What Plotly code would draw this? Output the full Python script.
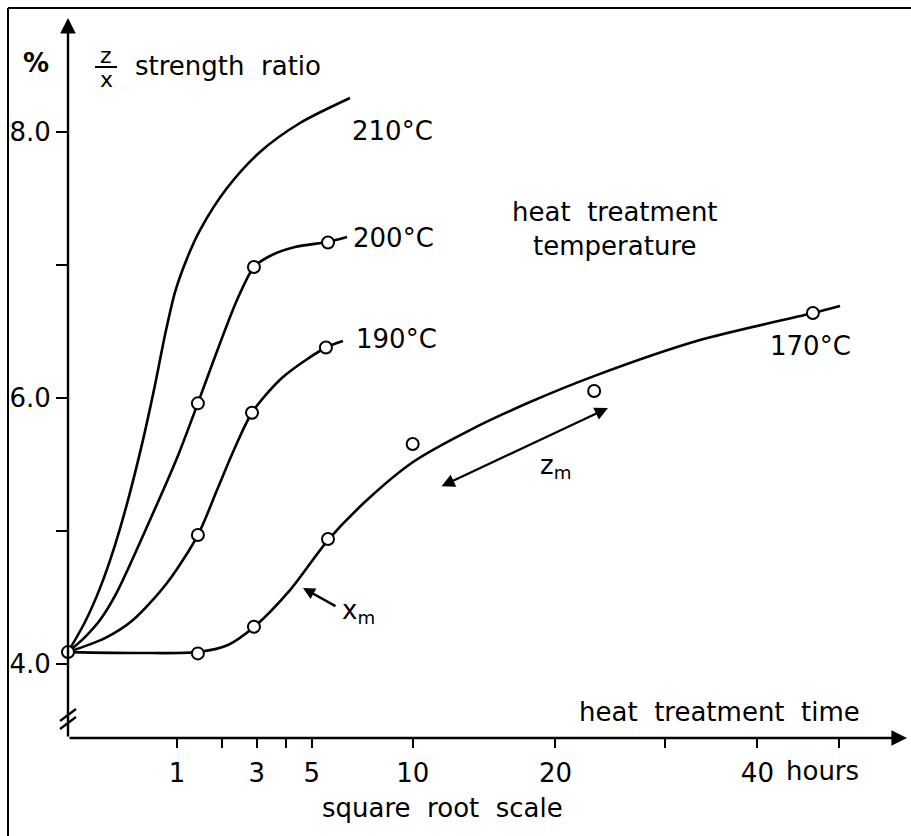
import numpy as np
import plotly.graph_objects as go

# ---------------- data (hours, strength ratio %) ----------------
# smooth hand-drawn curves
t210 = [0, 0.0243, 0.0862, 0.186, 0.303, 0.473, 0.637, 0.792, 0.964, 1.192, 1.467, 2.128, 3.103, 4.53, 6.693]
v210 = [4.09, 4.316, 4.571, 4.895, 5.233, 5.684, 6.098, 6.474, 6.797, 7.05, 7.263, 7.579, 7.85, 8.068, 8.256]

t200 = [0, 0.0243, 0.0862, 0.202, 0.566, 1.0, 1.42, 1.77, 2.404, 2.91, 3.434, 4.337, 5.69, 6.552]
v200 = [4.09, 4.203, 4.331, 4.541, 5.083, 5.549, 5.962, 6.271, 6.737, 6.985, 7.068, 7.135, 7.175, 7.211]

t190 = [0, 0.115, 0.356, 0.825, 1.42, 1.869, 2.292, 2.85, 3.89, 5.60, 6.365]
v190 = [4.09, 4.195, 4.331, 4.609, 4.97, 5.308, 5.594, 5.89, 6.158, 6.38, 6.429]

t170 = [0, 0.436, 1.42, 2.155, 2.91, 4.148, 5.69, 7.525, 10.02, 13.6, 17.97, 23.29, 33.62, 46.72, 50.17]
v170 = [4.09, 4.083, 4.09, 4.143, 4.278, 4.556, 4.932, 5.233, 5.519, 5.759, 5.97, 6.165, 6.436, 6.639, 6.692]

# measured points (open circles)
m170_t = [0, 1.42, 2.91, 5.69, 10.0, 23.3, 46.7]
m170_v = [4.09, 4.08, 4.28, 4.94, 5.654, 6.053, 6.639]
m200_t = [1.42, 2.91, 5.69]
m200_v = [5.96, 6.985, 7.17]
m190_t = [1.42, 2.85, 5.60]
m190_v = [4.97, 5.89, 6.38]

# axis ticks (hours, square-root scale)
x_tick_hours = [1, 2, 3, 4, 5, 10, 20, 30, 40, 50]
x_tick_text = ["1", "", "3", "", "5", "10", "20", "", "40", ""]
y_tick_vals = [4.0, 5.0, 6.0, 7.0, 8.0]
y_tick_text = ["4.0", "", "6.0", "", "8.0"]

# ---------------- layout geometry ----------------
W, H = 911, 836
L, R, T, B = 68, 4, 18, 98
PW, PH = W - L - R, H - T - B
X_MAX = PW / 109.0
Y_MIN = 3.444
Y_MAX = Y_MIN + PH / 133.0

FONT = "DejaVu Sans"
FS = 26
NB = "\u00a0"


def sq(a):
    return np.sqrt(np.asarray(a, dtype=float))


def px(x):
    return (x - L) / PW


def py(y):
    return (H - B - y) / PH


fig = go.Figure()

line_style = dict(color="black", width=2.6, shape="spline", smoothing=0.8)
for t, v in [(t210, v210), (t200, v200), (t190, v190), (t170, v170)]:
    fig.add_trace(go.Scatter(x=sq(t), y=v, mode="lines", line=line_style,
                             hoverinfo="skip", cliponaxis=False, showlegend=False))

marker_style = dict(symbol="circle", size=12, color="white",
                    line=dict(color="black", width=2))
for t, v in [(m170_t, m170_v), (m200_t, m200_v), (m190_t, m190_v)]:
    fig.add_trace(go.Scatter(x=sq(t), y=v, mode="markers", marker=marker_style,
                             cliponaxis=False, showlegend=False))

fig.update_layout(
    width=W, height=H,
    margin=dict(l=L, r=R, t=T, b=B, pad=0),
    paper_bgcolor="white", plot_bgcolor="white",
    font=dict(family=FONT, size=FS, color="black"),
    showlegend=False,
    xaxis=dict(range=[0, X_MAX], showgrid=False, zeroline=False, showline=False,
               tickmode="array", tickvals=sq(x_tick_hours), ticktext=x_tick_text,
               ticks="outside", ticklen=9, tickwidth=2, tickcolor="black",
               ticklabelstandoff=3,
               tickfont=dict(family=FONT, size=FS, color="black")),
    yaxis=dict(range=[Y_MIN, Y_MAX], showgrid=False, zeroline=False, showline=False,
               tickmode="array", tickvals=y_tick_vals, ticktext=y_tick_text,
               ticks="outside", ticklen=11, tickwidth=2, tickcolor="black",
               tickfont=dict(family=FONT, size=FS, color="black")),
)

shapes = []
# frame (left and top edge of scanned figure)
shapes.append(dict(type="line", xref="paper", yref="paper",
                   x0=px(8), y0=py(8), x1=px(8), y1=py(836), line=dict(color="black", width=2)))
shapes.append(dict(type="line", xref="paper", yref="paper",
                   x0=px(8), y0=py(8), x1=px(911), y1=py(8), line=dict(color="black", width=2)))
# axis break marks
for y0 in (721, 729):
    shapes.append(dict(type="line", xref="paper", yref="paper",
                       x0=px(60), y0=py(y0), x1=px(76), y1=py(y0 - 12),
                       line=dict(color="black", width=2.2)))
# fraction bar of z/x
shapes.append(dict(type="line", xref="paper", yref="paper",
                   x0=px(95), y0=py(67), x1=px(117), y1=py(67),
                   line=dict(color="black", width=2)))
fig.update_layout(shapes=shapes)

ann = []
# axis lines with arrowheads
ann.append(dict(x=0, y=Y_MAX, ax=0, ay=Y_MIN, xref="x", yref="y", axref="x", ayref="y",
                text="", showarrow=True, arrowhead=2, arrowsize=1.3, arrowwidth=2.4,
                arrowcolor="black"))
ann.append(dict(x=X_MAX, y=Y_MIN, ax=0, ay=Y_MIN, xref="x", yref="y", axref="x", ayref="y",
                text="", showarrow=True, arrowhead=2, arrowsize=1.3, arrowwidth=2.4,
                arrowcolor="black"))


def label(text, x, y, xanchor="left", size=FS):
    ann.append(dict(text=text, x=px(x), y=py(y), xref="paper", yref="paper",
                    xanchor=xanchor, yanchor="middle", showarrow=False,
                    font=dict(family=FONT, size=size, color="black")))


label("<b>%</b>", 36, 63, "center")
label("z", 106, 55, "center", 22)
label("x", 106, 79, "center", 22)
label("strength" + NB * 2 + "ratio", 133, 66)
label("210°C", 350, 131)
label("200°C", 351, 238)
label("190°C", 354, 339)
label("170°C", 768, 346)
label("heat" + NB * 2 + "treatment<br>temperature", 615, 229, "center")
label("z<sub>m</sub>", 538, 466)
label("x<sub>m</sub>", 340, 611)
label("heat" + NB * 2 + "treatment" + NB * 2 + "time", 862, 712, "right")
label("hours", 784, 771)
label("square" + NB * 2 + "root" + NB * 2 + "scale", 442, 808, "center")

# z_m double-headed arrow
ann.append(dict(x=px(608), y=py(408), xref="paper", yref="paper",
                ax=440 - 608, ay=487 - 408, text="", showarrow=True,
                arrowhead=2, startarrowhead=2, arrowside="end+start",
                arrowsize=1.2, startarrowsize=1.2, arrowwidth=2.2, arrowcolor="black"))
# x_m pointer
ann.append(dict(x=px(303), y=py(588), xref="paper", yref="paper",
                ax=337 - 303, ay=607 - 588, text="", showarrow=True,
                arrowhead=2, arrowsize=1.0, arrowwidth=2.4, arrowcolor="black"))

fig.update_layout(annotations=ann)

fig.write_html("out.html")
